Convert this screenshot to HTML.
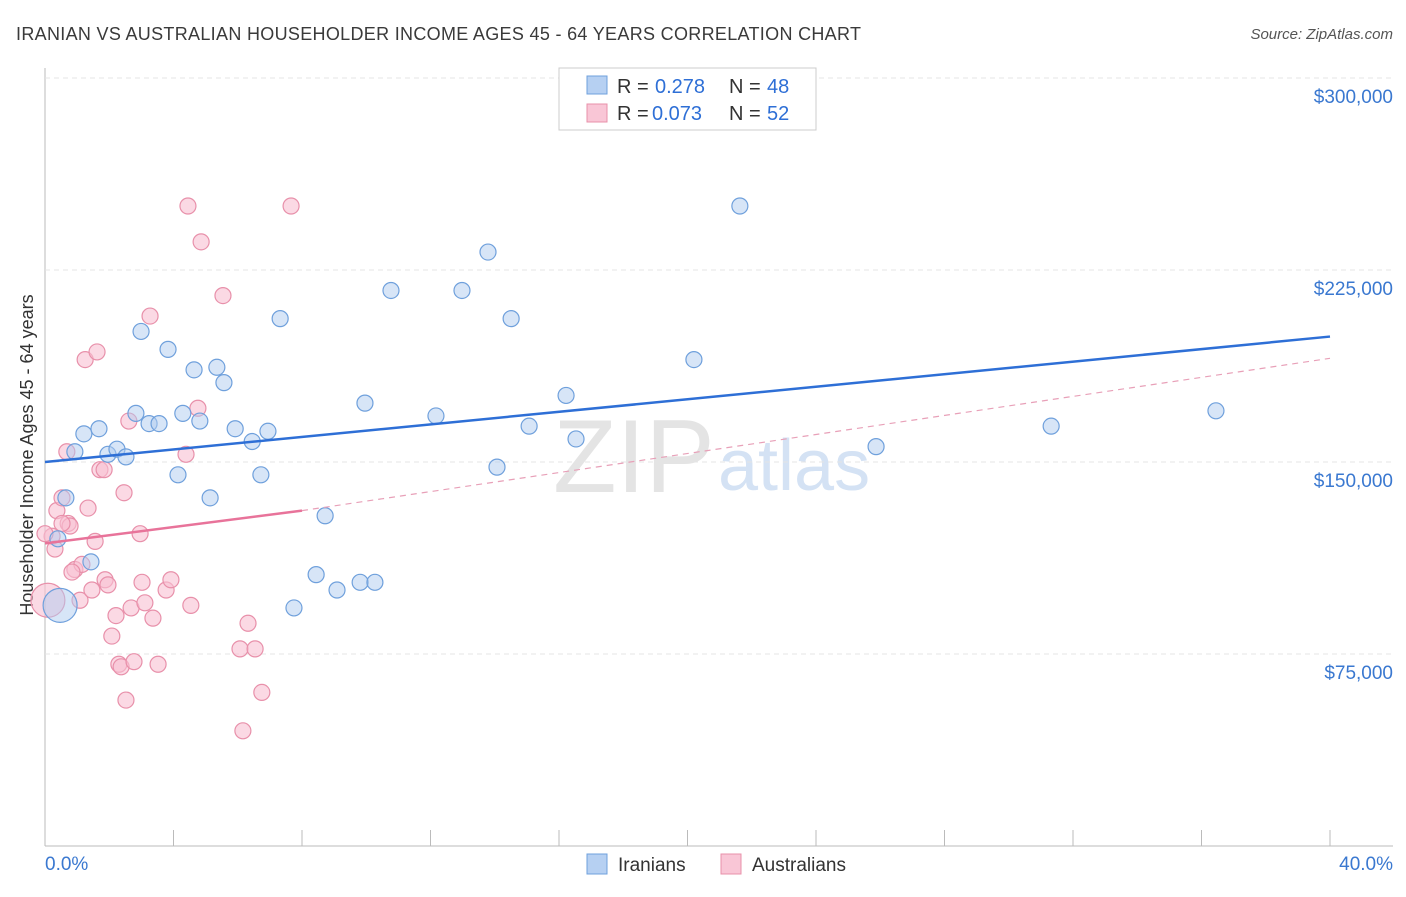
<!DOCTYPE html>
<html><head><meta charset="utf-8"><style>
body{margin:0;background:#fff;font-family:"Liberation Sans",sans-serif}
svg text{font-family:"Liberation Sans",sans-serif}
</style></head><body>
<svg id="c" width="1406" height="892">
<text x="16" y="40" font-size="18" fill="#3a3a3a" textLength="845">IRANIAN VS AUSTRALIAN HOUSEHOLDER INCOME AGES 45 - 64 YEARS CORRELATION CHART</text>
<text x="1393" y="39" font-size="15" fill="#555" text-anchor="end" font-style="italic">Source: ZipAtlas.com</text>
<text x="33" y="455" font-size="18" fill="#333" transform="rotate(-90 33 455)" text-anchor="middle">Householder Income Ages 45 - 64 years</text>
<text x="553" y="492" font-size="104" fill="#e4e4e4" font-family="Liberation Serif">ZIP</text>
<text x="718" y="490" font-size="72" fill="#d4e2f4">atlas</text>
<g id="grid"></g><g id="pts"></g><g id="lines"></g>
<g>
<rect x="559" y="68" width="257" height="62" fill="#fff" stroke="#ccc"/>
<rect x="587" y="76" width="20" height="18" fill="#b6d0f2" stroke="#6fa0dc"/>
<text x="617" y="93" font-size="20" fill="#333">R =</text>
<text x="655" y="93" font-size="20" fill="#2e6fd6">0.278</text>
<text x="729" y="93" font-size="20" fill="#333">N =</text>
<text x="767" y="93" font-size="20" fill="#2e6fd6">48</text>
<rect x="587" y="104" width="20" height="18" fill="#f9c6d6" stroke="#e890aa"/>
<text x="617" y="120" font-size="20" fill="#333">R =</text>
<text x="652" y="120" font-size="20" fill="#2e6fd6">0.073</text>
<text x="729" y="120" font-size="20" fill="#333">N =</text>
<text x="767" y="120" font-size="20" fill="#2e6fd6">52</text>
</g>
<g>
<rect x="587" y="854" width="20" height="20" fill="#b6d0f2" stroke="#6fa0dc"/>
<text x="618" y="871" font-size="19" fill="#333">Iranians</text>
<rect x="721" y="854" width="20" height="20" fill="#f9c6d6" stroke="#e890aa"/>
<text x="752" y="871" font-size="19" fill="#333">Australians</text>
</g>
<text x="45" y="870" font-size="19" fill="#3a78d0">0.0%</text>
<text x="1393" y="870" font-size="19" fill="#3a78d0" text-anchor="end">40.0%</text>
</svg>
<script>
const yTicks=[75000,150000,225000,300000];
const yTickLabels=["$75,000","$150,000","$225,000","$300,000"];
const xTicks=[0,4,8,12,16,20,24,28,32,36,40];
const iranX=[0.47,0.65,0.93,1.21,1.68,1.43,1.96,2.24,2.52,2.83,2.99,3.24,3.55,3.83,4.14,4.29,4.64,4.82,5.14,5.35,5.57,5.92,6.45,6.72,6.94,7.32,7.75,8.44,8.72,9.09,9.81,9.96,10.27,10.77,12.17,12.98,13.79,14.07,14.51,15.07,16.22,16.53,20.2,21.63,25.87,31.32,36.45,0.4];
const iranY=[94000,136000,154000,161000,163000,111000,153000,155000,152000,169000,201000,165000,165000,194000,145000,169000,186000,166000,136000,187000,181000,163000,158000,145000,162000,206000,93000,106000,129000,100000,103000,173000,103000,217000,168000,217000,232000,148000,206000,164000,176000,159000,190000,250000,156000,164000,170000,120000];
const ausX=[0.09,0.22,0.31,0.37,0.53,0.68,0.72,0.78,0.93,1.09,1.15,1.25,1.34,1.46,1.56,1.62,1.71,1.84,1.87,1.96,2.08,2.21,2.3,2.37,2.46,2.52,2.61,2.68,2.77,2.96,3.02,3.11,3.27,3.36,3.52,3.77,3.92,4.39,4.45,4.54,4.76,4.86,5.54,6.07,6.32,6.54,6.75,6.16,7.66,0.53,0.84,0.0];
const ausY=[96000,121000,116000,131000,136000,154000,126000,125000,108000,96000,110000,190000,132000,100000,119000,193000,147000,147000,104000,102000,82000,90000,71000,70000,138000,57000,166000,93000,72000,122000,103000,95000,207000,89000,71000,100000,104000,153000,250000,94000,171000,236000,215000,77000,87000,77000,60000,45000,250000,126000,107000,122000];
const X=v=>45+v/40*1285, Y=v=>846-v/75000*192;
const ns="http://www.w3.org/2000/svg";
function mk(t,a,p){const e=document.createElementNS(ns,t);for(const k in a)e.setAttribute(k,a[k]);p.appendChild(e);return e;}
const g=document.getElementById('grid');
let ax=mk('line',{x1:45,y1:68,x2:45,y2:846,stroke:'#bbb'},g);


let bx=mk('line',{x1:45,y1:846,x2:1393,y2:846,stroke:'#bbb'},g);


yTicks.forEach((t,i)=>{
 const l=mk('line',{x1:45,y1:Y(t),x2:1393,y2:Y(t),stroke:'#e4e4e4','stroke-dasharray':'5,4'},g);
 
 
 const tx=mk('text',{x:1393,y:Y(t)+25,'font-size':19,fill:'#3a78d0','text-anchor':'end'},g);
 tx.textContent=yTickLabels[i];
 
 
});
xTicks.forEach(t=>{
 const l=mk('line',{x1:X(t),y1:830,x2:X(t),y2:846,stroke:'#bbb'},g);
 
 
});
const p=document.getElementById('pts');
function dots(xs,ys,f,s,name,op){xs.forEach((x,i)=>{
 const r=(i==0)?17:8;
 const c=mk('circle',{cx:X(x),cy:Y(ys[i]),r:r,fill:f,'fill-opacity':op,stroke:s,'stroke-width':1.2},p);
 
 
});}
dots(ausX,ausY,'#f9c0d2','#e890aa','australian-point',0.6);
dots(iranX,iranY,'#b0ccf0','#6fa0dc','iranian-point',0.5);
const L=document.getElementById('lines');
let b=mk('line',{x1:X(0),y1:Y(150000),x2:X(40),y2:Y(199000),stroke:'#2e6fd6','stroke-width':2.5},L);


let pd=mk('line',{x1:X(8),y1:Y(131000),x2:X(40),y2:Y(190500),stroke:'#e8a0b8','stroke-width':1.2,'stroke-dasharray':'6,5'},L);


let pk=mk('line',{x1:X(0),y1:Y(118200),x2:X(8),y2:Y(131000),stroke:'#e8739a','stroke-width':2.5},L);


</script>
</body></html>
